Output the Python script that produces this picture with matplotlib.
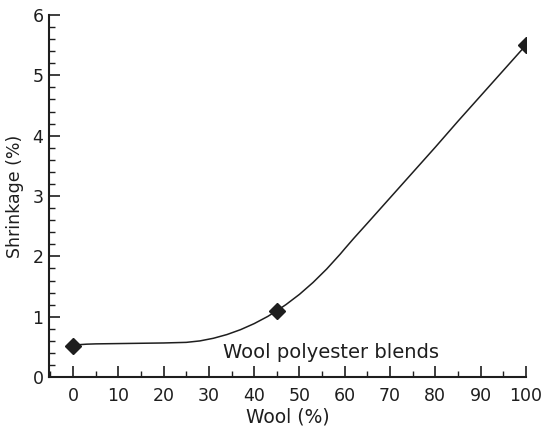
import numpy as np
import matplotlib
matplotlib.use("Agg")
import matplotlib.pyplot as plt
from matplotlib.ticker import MultipleLocator

plt.rcParams['font.family'] = ['DejaVu Sans']

# Measured shrinkage of wool/polyester blends
wool_pct = [0, 45, 100]
shrinkage = [0.52, 1.1, 5.5]

# Hand-fitted trend curve through the measurements
curve_x = [0, 1, 3, 5, 10, 15, 20, 25, 28, 31, 34, 37, 40, 43, 45, 47, 50, 53,
           56, 59, 60, 62, 65, 70, 75, 80, 85, 90, 95, 100]
curve_y = [0.52, 0.535, 0.545, 0.55, 0.555, 0.56, 0.565, 0.575, 0.599, 0.643,
           0.705, 0.786, 0.886, 1.005, 1.1, 1.2, 1.371, 1.568, 1.79, 2.038,
           2.127, 2.30, 2.55, 2.97, 3.39, 3.81, 4.24, 4.66, 5.08, 5.5]

xticks = list(range(0, 101, 10))
yticks = list(range(0, 7))

fig = plt.figure(figsize=(5.45, 4.28), dpi=100)
ax = fig.add_axes([0.09, 0.119, 0.875, 0.846])

ink = '#1e1e1e'
ax.plot(curve_x, curve_y, color=ink, lw=1.1, zorder=2)
ax.plot(wool_pct, shrinkage, linestyle='none', marker='D', markersize=8,
        color=ink, zorder=3)

ax.text(33, 0.31, 'Wool polyester blends', fontsize=14, color=ink,
        ha='left', va='baseline')

ax.set_xlim(-5.3, 100)
ax.set_ylim(0, 6)
ax.set_xticks(xticks)
ax.set_yticks(yticks)
ax.xaxis.set_minor_locator(MultipleLocator(5))
ax.yaxis.set_minor_locator(MultipleLocator(0.2))
ax.tick_params(which='major', direction='in', length=8, width=1.2,
               labelsize=12.5, colors=ink)
ax.tick_params(axis='x', which='major', pad=7)
ax.tick_params(axis='y', which='major', pad=4)
ax.tick_params(which='minor', direction='in', length=4, width=1.0, colors=ink)

for side in ('top', 'right'):
    ax.spines[side].set_visible(False)
for side in ('left', 'bottom'):
    ax.spines[side].set_linewidth(1.5)
    ax.spines[side].set_color(ink)

ax.set_xlabel('Wool (%)', fontsize=13.5, color=ink, labelpad=2)
ax.set_ylabel('Shrinkage (%)', fontsize=12.5, color=ink, labelpad=6)

fig.savefig('out.png', dpi=100)
